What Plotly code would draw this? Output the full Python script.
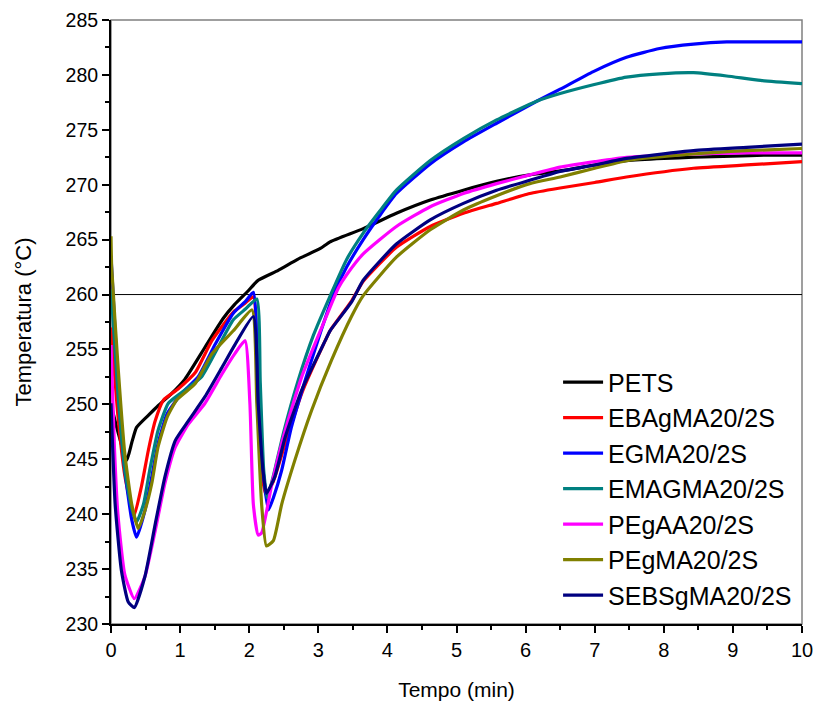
import plotly.graph_objects as go

# ---- data (time in min, temperature in °C) ----
names = ["PETS", "EBAgMA20/2S", "EGMA20/2S", "EMAGMA20/2S", "PEgAA20/2S", "PEgMA20/2S", "SEBSgMA20/2S"]
colors = ["#000000", "#FF0000", "#0000FF", "#008080", "#FF00FF", "#808000", "#000080"]

pets_t = [0, 0.1, 0.227, 0.3, 0.37, 0.54, 0.685, 0.88, 1.07, 1.36, 1.62, 1.79, 1.98, 2.13, 2.42, 2.7, 3.03, 3.17,
          3.65, 4.13, 4.62, 5.1, 5.58, 6.06, 6.55, 7.0, 7.46, 8.0, 8.43, 9.0, 9.5, 10]
pets_T = [250, 247.5, 244.9, 246.5, 247.9, 249.0, 249.9, 251.0, 252.3, 255.2, 257.8, 259.1, 260.3, 261.3, 262.2, 263.2,
          264.2, 264.8, 266.0, 267.4, 268.6, 269.5, 270.3, 270.9, 271.3, 271.8, 272.2, 272.4, 272.5, 272.6, 272.7, 272.7]

ebag_t = [0, 0.1, 0.2, 0.3, 0.337, 0.44, 0.54, 0.64, 0.76, 0.97, 1.22, 1.46, 1.77, 1.94, 2.06, 2.12, 2.18, 2.24, 2.35,
          2.5, 2.76, 3.10, 3.17, 3.48, 3.65, 4.13, 4.62, 5.1, 5.58, 6.06, 6.5, 7.0, 7.46, 8.43, 9.2, 10]
ebag_T = [257, 249, 243.5, 240.5, 239.9, 242.5, 245.8, 248.5, 250.4, 251.4, 252.9, 255.8, 258.4, 259.2, 259.8, 252, 244,
          241.8, 243, 246, 251.0, 255.8, 256.7, 259.4, 261.2, 264.3, 266.2, 267.4, 268.3, 269.2, 269.7, 270.2, 270.7,
          271.5, 271.8, 272.1]

egma_t = [0, 0.1, 0.2, 0.3, 0.37, 0.49, 0.59, 0.68, 0.81, 1.02, 1.26, 1.51, 1.77, 1.95, 2.06, 2.13, 2.2, 2.28, 2.35,
          2.47, 2.61, 2.81, 3.05, 3.22, 3.41, 3.65, 3.89, 4.13, 4.62, 5.1, 5.58, 6.16, 6.5, 6.98, 7.46, 7.94, 8.43,
          8.91, 9.5, 10]
egma_T = [263.5, 252, 244, 239.5, 237.9, 240.3, 243.4, 246.4, 249.1, 251.0, 252.5, 255.5, 258.3, 259.4, 260.2, 252, 244,
          240.4, 241.5, 244.0, 247.9, 252.2, 256.9, 260.0, 262.5, 265.0, 267.2, 269.2, 271.9, 273.9, 275.6, 277.6,
          278.7, 280.3, 281.6, 282.4, 282.8, 283.0, 283.0, 283.0]

emag_t = [0, 0.1, 0.2, 0.3, 0.37, 0.47, 0.56, 0.68, 0.83, 1.07, 1.31, 1.55, 1.77, 1.95, 2.11, 2.16, 2.21, 2.26, 2.35,
          2.5, 2.7, 2.93, 3.18, 3.41, 3.65, 3.89, 4.13, 4.62, 5.1, 5.58, 6.16, 6.5, 6.98, 7.46, 7.94, 8.43, 8.91, 9.4, 10]
emag_T = [260.5, 251, 244, 240.5, 239.3, 240.9, 244.0, 247.6, 250.1, 251.3, 252.5, 255.2, 257.7, 258.7, 259.6, 252, 244,
          241.5, 243.5, 247.5, 252, 256.3, 260.0, 263.2, 265.6, 267.6, 269.5, 272.2, 274.2, 275.9, 277.6, 278.3, 279.1,
          279.8, 280.1, 280.2, 279.9, 279.5, 279.2]

peaa_t = [0, 0.05, 0.1, 0.2, 0.337, 0.49, 0.64, 0.78, 0.93, 1.12, 1.36, 1.6, 1.79, 1.94, 2.01, 2.06, 2.13, 2.18, 2.33,
          2.52, 2.76, 3.05, 3.29, 3.41, 3.65, 4.13, 4.62, 5.1, 5.58, 6.06, 6.5, 7.0, 7.46, 8.43, 9.2, 10]
peaa_T = [255.4, 246, 240, 234.5, 232.3, 234.3, 238.5, 242.8, 246.1, 248.2, 250.1, 252.7, 254.6, 255.8, 250.1, 240.9,
          238.1, 238.3, 242.8, 247.6, 252.5, 257.0, 260.6, 261.8, 263.7, 266.2, 268.0, 269.2, 270.1, 270.9, 271.6,
          272.1, 272.5, 272.8, 272.9, 272.9]

pegma_t = [0, 0.01, 0.106, 0.2, 0.3, 0.395, 0.49, 0.59, 0.68, 0.81, 0.95, 1.22, 1.46, 1.77, 2.04, 2.11, 2.18, 2.25,
           2.35, 2.47, 2.66, 2.9, 3.19, 3.48, 3.65, 4.13, 4.62, 5.1, 5.58, 6.06, 6.5, 7.0, 7.46, 8.43, 9.2, 10]
pegma_T = [265.3, 262.5, 253.1, 245.5, 240.9, 238.7, 240.3, 242.8, 246.1, 248.8, 250.4, 251.9, 254.6, 256.7, 258.6,
           250.1, 240.9, 237.1, 237.6, 240.9, 244.9, 249.4, 254.0, 258.0, 259.9, 263.4, 265.9, 267.7, 269.0, 270.1,
           270.7, 271.5, 272.2, 272.8, 273.1, 273.3]

sebs_t = [0, 0.06, 0.15, 0.25, 0.337, 0.49, 0.64, 0.78, 0.93, 1.12, 1.36, 1.6, 1.79, 2.06, 2.13, 2.2, 2.25, 2.37,
          2.52, 2.76, 3.10, 3.17, 3.48, 3.65, 4.13, 4.62, 5.1, 5.58, 6.06, 6.5, 7.0, 7.46, 8.43, 9.2, 10]
sebs_T = [250.1, 240.9, 234.9, 232.0, 231.5, 234.3, 239.1, 243.4, 246.7, 248.5, 250.7, 253.3, 255.4, 258.0, 250.1,
          244.0, 241.9, 243.4, 247.0, 251.3, 255.8, 256.7, 259.3, 261.3, 264.6, 266.8, 268.3, 269.5, 270.4, 271.2,
          271.8, 272.4, 273.1, 273.4, 273.7]

series_t = [pets_t, ebag_t, egma_t, emag_t, peaa_t, pegma_t, sebs_t]
series_T = [pets_T, ebag_T, egma_T, emag_T, peaa_T, pegma_T, sebs_T]

ref_temp = 260
x_ticks = list(range(0, 11))
y_ticks = list(range(230, 286, 5))

FONT = "Arial"

fig = go.Figure()
for i, (n, c, t, T) in enumerate(zip(names, colors, series_t, series_T)):
    fig.add_trace(go.Scatter(x=t, y=T, mode="lines", name=n, legendgroup=f"g{i}",
                             line=dict(color=c, width=3.2, shape="spline", smoothing=0.5)))

# grey frame (top/right) and reference line
fig.add_shape(type="rect", xref="paper", yref="paper", x0=0, x1=1, y0=0, y1=1,
              line=dict(color="#808080", width=1.5), layer="below")
fig.add_shape(type="line", xref="paper", yref="y", x0=0, x1=1, y0=ref_temp, y1=ref_temp,
              line=dict(color="black", width=1), layer="below")

fig.update_layout(
    width=816, height=708,
    margin=dict(l=111, r=14, t=20, b=84),
    paper_bgcolor="white", plot_bgcolor="white",
    font=dict(family=FONT, color="black"),
    showlegend=True,
    legend=dict(x=0.647, y=0.438, xanchor="left", yanchor="top",
                font=dict(size=25, family=FONT, color="black"),
                bgcolor="rgba(0,0,0,0)", tracegroupgap=0, itemwidth=40),
)
fig.update_xaxes(range=[0, 10], tickvals=x_ticks, showgrid=False, zeroline=False, automargin=False,
                 showline=True, linecolor="black", linewidth=2,
                 ticks="outside", ticklen=7, tickwidth=2, tickcolor="black",
                 minor=dict(dtick=0.5, ticks="outside", ticklen=4, tickwidth=2, tickcolor="black"),
                 tickfont=dict(size=20, family=FONT),
                 title=dict(text="Tempo (min)", font=dict(size=21, family=FONT), standoff=22))
fig.update_yaxes(range=[230, 285], tickvals=y_ticks, showgrid=False, zeroline=False, automargin=False,
                 showline=True, linecolor="black", linewidth=2,
                 ticks="outside", ticklen=7, tickwidth=2, tickcolor="black",
                 minor=dict(dtick=2.5, ticks="outside", ticklen=4, tickwidth=2, tickcolor="black"),
                 tickfont=dict(size=19.5, family=FONT),
                 title=dict(text="Temperatura (°C)", font=dict(size=22, family=FONT), standoff=28))

fig.write_html("out.html")
